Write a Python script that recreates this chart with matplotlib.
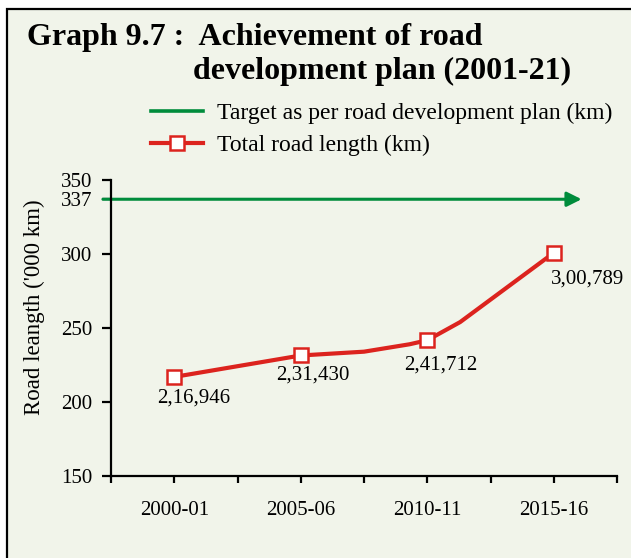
import matplotlib
matplotlib.use("Agg")
import matplotlib.pyplot as plt
from matplotlib.patches import Rectangle
from matplotlib.ticker import FixedLocator

plt.rcParams["font.family"] = ["Liberation Serif", "DejaVu Serif"]

# years since 2000-01; labelled years carry the exact value
years = [0, 5, 7.5, 9.3, 10, 11.3, 15]
road_length = [216.946, 231.430, 234.0, 239.0, 241.712, 254.0, 300.789]
labelled_years = [0, 5, 10, 15]
labelled_values = [216.946, 231.430, 241.712, 300.789]
value_labels = ["2,16,946", "2,31,430", "2,41,712", "3,00,789"]
label_offsets = [(14, -15), (9, -14), (10, -18), (24, -19)]  # points

category_pos = [0, 5, 10, 15]
category_labels = ["2000-01", "2005-06", "2010-11", "2015-16"]
target = 337
y_ticks = [150, 200, 250, 300, 337, 350]

bg = "#f1f4ea"
red = "#dc231e"
green = "#008c3c"

W, H = 631, 558
fig = plt.figure(figsize=(W / 100, H / 100), dpi=100, facecolor="white")
fig.patches.append(Rectangle((7 / W, -0.05), 1.1, 1 - 9 / H + 0.05,
                             transform=fig.transFigure, facecolor=bg,
                             edgecolor="black", linewidth=1.6, zorder=-1))

ax = fig.add_axes([111 / W, (H - 476) / H, (617 - 111) / W, (476 - 180) / H])
ax.set_facecolor("none")

ax.set_xlim(-2.5, 17.5)
ax.set_ylim(150, 350)

# target line with arrow head
ax.annotate("", xy=(16.1, target), xytext=(-2.82, target),
            arrowprops=dict(arrowstyle="-|>", color=green, lw=2.2,
                            mutation_scale=22, shrinkA=0, shrinkB=0),
            annotation_clip=False, zorder=2)
target_handle, = ax.plot([], [], color=green, lw=2.6,
                         label="Target as per road development plan (km)")

ax.plot(years, road_length, color=red, lw=3, solid_joinstyle="round", zorder=3)
ax.plot(labelled_years, labelled_values, ls="none", marker="s", ms=10,
        mfc="white", mec=red, mew=1.8, zorder=4)
length_handle, = ax.plot([], [], color=red, lw=3, marker="s", ms=10,
                         mfc="white", mec=red, mew=1.8,
                         label="Total road length (km)")

for x, y, txt, off in zip(labelled_years, labelled_values, value_labels, label_offsets):
    ax.annotate(txt, (x, y), xytext=off, textcoords="offset points",
                ha="center", va="center", fontsize=15)

ax.spines["top"].set_visible(False)
ax.spines["right"].set_visible(False)
for s in ("left", "bottom"):
    ax.spines[s].set_linewidth(1.6)

ax.set_yticks(y_ticks)
ax.set_yticklabels([str(t) for t in y_ticks])
ax.set_xticks(category_pos)
ax.set_xticklabels(category_labels)
ax.xaxis.set_minor_locator(FixedLocator([-2.5, 2.5, 7.5, 12.5, 17.5]))
ax.tick_params(axis="y", direction="out", length=6.5, width=1.6, pad=7, labelsize=15)
ax.tick_params(axis="x", which="both", direction="out", length=5, width=1.6, pad=13, labelsize=15)

ax.set_ylabel("Road leangth ('000 km)", fontsize=16.5)
ax.yaxis.set_label_coords(-(111 - 45) / (617 - 111), 0.57)

fig.text(27 / W, 1 - 45 / H, "Graph 9.7 :  Achievement of road",
         fontsize=23, fontweight="bold", ha="left", va="baseline")
fig.text(193 / W, 1 - 79 / H, "development plan (2001-21)",
         fontsize=23, fontweight="bold", ha="left", va="baseline")

fig.legend(handles=[target_handle, length_handle], loc="upper left",
           bbox_to_anchor=(139 / W, 1 - 91 / H), frameon=False, fontsize=17,
           handlelength=2.2, handletextpad=0.6, labelspacing=0.45,
           borderpad=0, numpoints=1)

fig.savefig("out.png", dpi=100, facecolor="white")
